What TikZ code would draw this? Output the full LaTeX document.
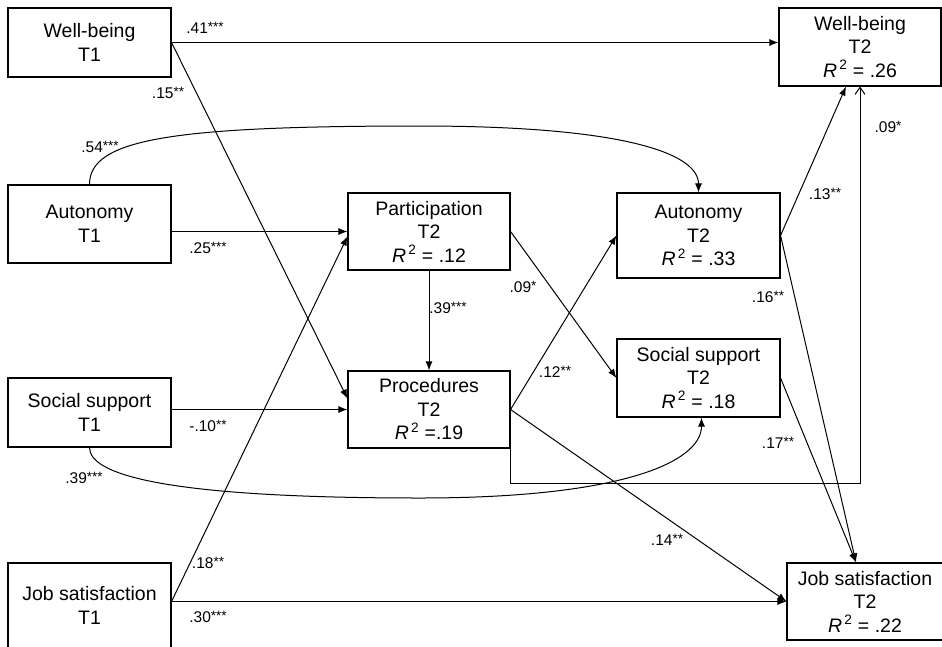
\documentclass[tikz,border=0pt]{standalone}
\usepackage{fontspec}
\setmainfont{Liberation Sans}
\usetikzlibrary{arrows.meta, calc}

\newcommand{\Rsq}{\textit{R}\textsuperscript{\,2}}
\newcommand{\sig}[1]{\raisebox{1.5pt}{\fontsize{13.5}{13.5}\selectfont #1}}

\tikzset{
  var/.style={draw, line width=1.1pt, minimum width=163pt, inner sep=0pt,
    align=center, font=\fontsize{19.5}{23.5}\selectfont},
  coef/.style={inner sep=0pt, font=\fontsize{15.5}{17}\selectfont},
  link/.style={->, line width=1pt}
}

\begin{document}
\begin{tikzpicture}[x=1pt, y=-1pt, >={Latex[length=9pt,width=7pt]}]
    \useasboundingbox (0,0) rectangle (942,646);

    % Variablen T1
    \node[var, minimum height=69pt] (wb1) at (89.5,42.5) {Well-being\\T1};
    \node[var, minimum height=78pt] (au1) at (89.5,224) {Autonomy\\T1};
    \node[var, minimum height=69pt] (ss1) at (89.5,412.5) {Social support\\T1};
    \node[var, minimum height=85pt] (js1) at (89.5,605.5) {Job satisfaction\\T1};

    % Mediatoren und Variablen T2
    \node[var, minimum width=162pt, minimum height=77pt] (par2) at (429,231.5) {Participation\\T2\\\Rsq{} = .12};
    \node[var, minimum width=162pt, minimum height=77pt] (pro2) at (429,409.5) {Procedures\\T2\\\Rsq{} =.19};
    \node[var, minimum height=85pt] (au2) at (698.5,235.5) {Autonomy\\T2\\\Rsq{} = .33};
    \node[var, minimum height=78pt] (ss2) at (698.5,378) {Social support\\T2\\\Rsq{} = .18};
    \node[var, minimum width=162pt, minimum height=78pt] (wb2) at (860,47) {Well-being\\T2\\\Rsq{} = .26};
    \node[var, minimum width=156pt, minimum height=77pt] (js2) at (865,601.5) {Job satisfaction\\T2\\\Rsq{} = .22};

    \coordinate (jsout) at (js1.east |- js2.west);
    \coordinate (jsin) at ($(js2.north)+(-9,0)$);

    % Pfade von T1
    \draw[link] (wb1.east) -- (wb1.east -| wb2.west);
    \draw[link] (wb1.east) -- ($(pro2.west)+(0,-11)$);
    \draw[link] (au1.east |- par2.west) -- (par2.west);
    \draw[link] (ss1.east |- pro2.west) -- (pro2.west);
    \draw[link] (jsout) -- ($(par2.west)+(0,5)$);
    \draw[link] (jsout) -- (js2.west);
    \draw[link] (au1.north) .. controls +(0,-45) and +(-250,0) .. (420,126)
        .. controls +(200,0) and +(0,-40) .. (au2.north);
    \draw[link] (ss1.south) .. controls +(0,28) and +(-250,0) .. (420,498)
        .. controls +(200,0) and +(0,45) .. ($(ss2.south)+(3,0)$);

    % Pfade der Mediatoren
    \draw[link] (par2.south) -- (pro2.north);
    \draw[link] (par2.east) -- (ss2.west);
    \draw[link] (pro2.east) -- (au2.west);
    \draw[link] (pro2.east) -- (js2.west);
    \draw[line width=1pt, -{Straight Barb[length=7pt,width=10pt]}] (pro2.south east) -- ++(0,35) -| (wb2.south);
    \draw[link] (au2.east) -- ($(wb2.south)+(-14,0)$);
    \draw[link] (au2.east) -- (jsin);
    \draw[link] (ss2.east) -- (jsin);

    % Koeffizienten
    \node[coef] (k1) at (205,28) {.41\sig{***}};
    \node[coef] (k2) at (168,93) {.15\sig{**}};
    \node[coef] (k3) at (100,147) {.54\sig{***}};
    \node[coef] (k4) at (208,248) {.25\sig{***}};
    \node[coef] (k5) at (208,426) {-.10\sig{**}};
    \node[coef] (k6) at (84,478) {.39\sig{***}};
    \node[coef] (k7) at (208,563) {.18\sig{**}};
    \node[coef] (k8) at (208,617) {.30\sig{***}};
    \node[coef] (k9) at (448,308) {.39\sig{***}};
    \node[coef] (k10) at (523,287) {.09\sig{*}};
    \node[coef] (k11) at (555,372) {.12\sig{**}};
    \node[coef] (k12) at (667,540) {.14\sig{**}};
    \node[coef] (k13) at (825,194) {.13\sig{**}};
    \node[coef] (k14) at (768,297) {.16\sig{**}};
    \node[coef] (k15) at (778,443) {.17\sig{**}};
    \node[coef] (k16) at (888,127) {.09\sig{*}};
\end{tikzpicture}
\end{document}
